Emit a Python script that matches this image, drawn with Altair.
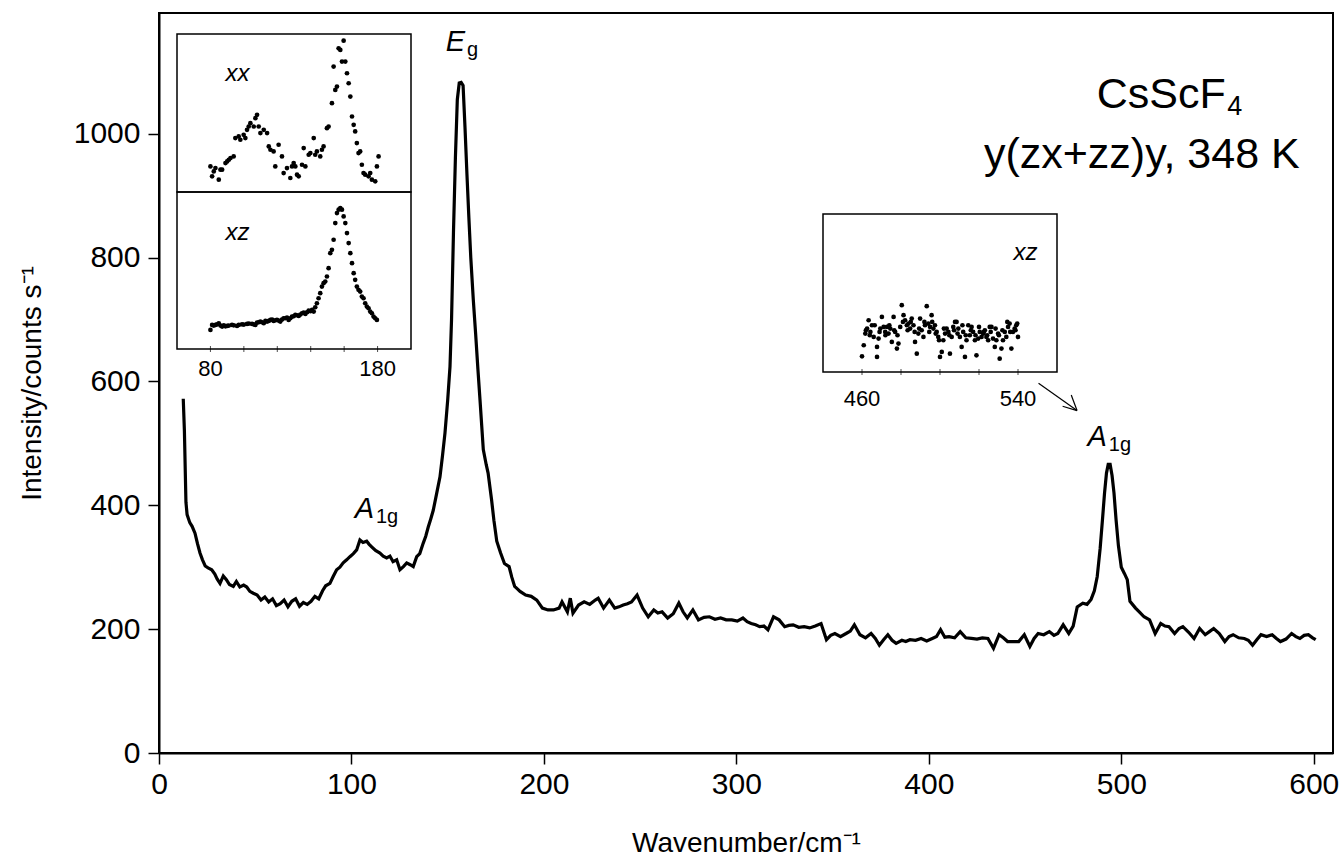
import altair as alt
import pandas as pd

# ---------------- data ----------------
main_points = [
    (12.6, 572), (13.2, 520), (14.0, 405), (14.6, 385), (16.0, 372), (17.2, 366), (18.7, 355), (20.0, 338),
    (21.3, 323), (22.6, 312), (24.0, 302), (25.5, 299), (27.4, 296), (29.0, 289), (30.2, 281), (31.7, 274),
    (33.4, 286), (35.0, 280), (36.6, 272), (38.6, 269), (40.2, 277), (42.0, 268), (44.0, 271), (45.6, 268),
    (47.2, 261), (49.0, 258), (51.0, 255), (53.0, 247), (55.0, 252), (57.0, 244), (59.0, 249), (61.0, 238),
    (63.0, 241), (65.0, 247), (67.0, 236), (69.0, 245), (71.0, 249), (73.0, 237), (75.0, 243), (77.0, 240),
    (79.0, 245), (81.0, 253), (83.0, 249), (85.0, 262), (86.6, 270), (88.8, 274), (90.5, 285), (92.3, 296),
    (94.0, 300), (95.7, 307), (97.5, 312), (99.2, 317), (101.0, 322), (102.7, 328), (104.4, 344), (106.0, 340),
    (107.9, 342), (109.2, 337), (110.5, 333), (112.5, 327), (114.8, 323), (116.5, 318), (118.3, 315), (120.0, 318),
    (121.6, 309), (123.5, 312), (125.2, 296), (127.0, 301), (128.7, 307), (130.5, 304), (132.1, 301), (133.9, 317),
    (135.5, 322), (137.3, 339), (138.6, 350), (139.9, 365), (141.2, 378), (142.5, 392), (144.2, 418), (146.0, 446),
    (147.3, 480), (148.6, 517), (150.0, 570), (151.2, 624), (152.0, 700), (153.0, 840), (154.0, 960), (155.0, 1055),
    (156.0, 1082), (157.0, 1083), (158.0, 1078), (159.0, 1010), (160.0, 935), (161.0, 865), (162.0, 800), (163.3, 732),
    (164.5, 678), (165.7, 620), (166.8, 570), (168.5, 490), (170.0, 466), (171.0, 452), (172.8, 409), (174.0, 376),
    (175.5, 342), (177.5, 323), (179.5, 306), (181.9, 301), (183.3, 284), (184.8, 269), (186.2, 265), (187.6, 261),
    (190.5, 255), (193.4, 253), (196.3, 247), (199.2, 234), (202.1, 231), (205.0, 231), (207.9, 234), (209.4, 244),
    (212.2, 228), (213.7, 250), (215.1, 226), (218.0, 239), (220.9, 244), (223.8, 240), (226.7, 247), (228.2, 250),
    (231.0, 234), (234.0, 247), (236.8, 234), (239.0, 236), (241.2, 239), (243.4, 241), (245.5, 244), (248.4, 255),
    (251.3, 234), (254.2, 220), (257.1, 231), (259.2, 226), (261.4, 228), (264.3, 218), (267.2, 225), (270.1, 242),
    (272.3, 228), (274.5, 218), (277.4, 231), (280.3, 215), (283.2, 219), (286.0, 220), (288.9, 216), (291.8, 218),
    (294.7, 215), (297.6, 215), (300.5, 213), (303.4, 218), (305.6, 212), (307.7, 209), (310.0, 207), (312.1, 204),
    (314.3, 205), (316.4, 199), (319.3, 220), (322.2, 215), (325.1, 204), (327.3, 206), (329.5, 207), (332.4, 203),
    (335.2, 204), (338.1, 202), (341.0, 205), (344.0, 209), (346.8, 183), (349.0, 190), (351.2, 193), (354.1, 188),
    (357.0, 193), (359.2, 197), (361.3, 207), (364.2, 191), (367.1, 186), (370.0, 193), (372.2, 185), (374.3, 174),
    (376.5, 183), (378.7, 191), (380.9, 182), (383.0, 177), (386.0, 182), (388.0, 180), (390.2, 183), (393.1, 182),
    (396.0, 185), (398.9, 181), (401.8, 185), (404.0, 188), (406.1, 199), (408.3, 187), (410.5, 188), (413.4, 186),
    (416.3, 196), (419.2, 186), (422.1, 185), (425.0, 184), (427.8, 186), (430.7, 185), (433.6, 169), (436.5, 191),
    (438.7, 186), (440.9, 180), (443.8, 180), (446.7, 180), (449.6, 191), (452.5, 172), (454.7, 185), (456.8, 193),
    (459.7, 191), (462.6, 196), (465.0, 190), (467.0, 193), (469.8, 207), (472.7, 193), (475.0, 205), (477.1, 236),
    (480.0, 242), (482.2, 240), (484.3, 248), (486.0, 262), (487.5, 285), (489.0, 330), (490.2, 376), (491.3, 420),
    (492.3, 452), (493.2, 466), (494.2, 466), (495.2, 448), (496.2, 420), (497.3, 376), (498.5, 335), (500.0, 300),
    (501.6, 290), (503.1, 280), (504.5, 245), (507.4, 234), (509.6, 227), (511.8, 220), (514.7, 215), (517.6, 193),
    (520.5, 209), (522.7, 205), (524.8, 204), (527.7, 193), (530.0, 201), (532.0, 204), (535.0, 195), (537.8, 185),
    (540.7, 201), (543.6, 191), (545.8, 196), (548.0, 201), (550.9, 193), (553.8, 180), (556.0, 188), (558.1, 191),
    (561.0, 186), (563.9, 185), (566.0, 182), (568.2, 174), (570.4, 183), (572.6, 191), (575.5, 188), (578.4, 191),
    (580.6, 185), (582.7, 180), (585.6, 184), (588.5, 193), (590.7, 188), (592.8, 185), (595.0, 190), (597.2, 191),
    (599.4, 186), (601.0, 183),
]
wavenumber = [p[0] for p in main_points]
intensity = [p[1] for p in main_points]

# inset 1, top panel (xx), arbitrary intensity units
xx_points = [
    (80.0, 77), (81.0, 47), (82.0, 62), (83.0, 72), (85.0, 37), (86.0, 67), (87.0, 67), (89.0, 87), (90.0, 92),
    (91.0, 97), (92.0, 102), (93.9, 107), (94.9, 162), (96.9, 167), (97.9, 157), (99.9, 172), (100.9, 162),
    (101.9, 187), (102.9, 197), (103.9, 207), (105.9, 197), (106.9, 222), (107.9, 232), (108.9, 197), (109.9, 177),
    (111.9, 187), (113.9, 177), (114.9, 137), (115.9, 127), (117.8, 122), (118.8, 77), (120.8, 142), (122.8, 107),
    (123.8, 57), (125.8, 72), (127.8, 42), (128.8, 77), (129.8, 87), (130.8, 77), (131.8, 52), (132.8, 47),
    (134.8, 82), (135.8, 132), (136.8, 77), (138.8, 112), (139.8, 117), (141.8, 162), (142.7, 112), (143.7, 122),
    (145.7, 107), (146.7, 127), (147.7, 137), (149.7, 192), (150.7, 197), (152.7, 267), (153.7, 377), (154.7, 307),
    (155.7, 317), (156.7, 432), (157.7, 427), (158.7, 392), (159.7, 455), (160.7, 392), (161.7, 357), (162.7, 327),
    (163.7, 287), (164.7, 227), (165.7, 202), (166.6, 182), (167.6, 147), (168.6, 117), (169.6, 122), (170.6, 82),
    (171.6, 57), (172.6, 52), (174.6, 47), (175.6, 57), (176.6, 37), (178.6, 32), (179.6, 77), (180.6, 107),
]
# inset 1, bottom panel (xz)
xz_points = [
    (80.0, 57), (81.0, 72), (82.0, 70), (83.0, 72), (84.0, 74), (85.0, 77), (86.0, 70), (87.0, 67), (88.0, 71),
    (89.0, 68), (90.0, 69), (91.0, 70), (92.9, 72), (94.0, 71), (95.9, 69), (97.0, 72), (98.9, 74), (100.0, 73),
    (101.9, 75), (103.0, 76), (104.9, 75), (105.9, 74), (106.9, 72), (107.9, 79), (108.9, 80), (109.9, 82),
    (110.9, 80), (111.9, 77), (112.9, 84), (113.9, 82), (114.9, 84), (115.9, 87), (116.9, 88), (117.8, 84),
    (118.8, 86), (119.8, 87), (120.8, 85), (121.8, 82), (122.8, 88), (123.8, 92), (124.8, 92), (125.8, 94),
    (126.8, 87), (127.8, 92), (128.8, 97), (129.8, 98), (130.8, 102), (131.8, 101), (132.8, 99), (133.8, 103),
    (134.8, 107), (135.8, 109), (136.8, 105), (137.8, 110), (138.8, 115), (139.8, 113), (140.8, 117), (141.8, 112),
    (142.7, 125), (143.7, 137), (144.7, 152), (145.7, 167), (146.7, 187), (147.7, 197), (148.7, 202), (149.7, 217),
    (150.7, 242), (151.7, 287), (152.7, 297), (153.7, 327), (154.7, 377), (155.7, 407), (156.7, 417), (157.7, 422),
    (158.7, 417), (159.7, 397), (160.7, 377), (161.7, 347), (162.7, 317), (163.7, 287), (164.7, 257), (165.7, 227),
    (166.6, 207), (167.6, 187), (168.6, 177), (169.6, 172), (170.6, 157), (171.6, 152), (172.6, 137), (173.6, 127),
    (174.6, 122), (175.6, 112), (176.6, 107), (177.6, 97), (178.6, 92), (179.6, 87),
]
# inset 2 (xz, 460-540 cm-1)
hi_points = [
    (460.0, 47), (460.9, 80), (461.7, 115), (462.0, 125), (462.6, 130), (463.4, 155), (464.0, 110), (464.3, 120),
    (465.1, 140), (466.0, 105), (466.5, 140), (467.7, 45), (467.7, 75), (468.5, 100), (469.0, 120), (469.4, 130),
    (470.2, 165), (471.1, 135), (471.9, 120), (472.0, 110), (472.8, 135), (473.6, 115), (474.0, 140), (474.5, 130),
    (475.3, 90), (476.2, 165), (476.5, 125), (477.0, 120), (477.9, 70), (478.2, 110), (478.7, 85), (479.6, 135),
    (480.4, 200), (481.0, 150), (481.3, 170), (482.1, 155), (483.0, 140), (483.4, 125), (483.8, 145), (484.7, 130),
    (485.0, 150), (485.5, 160), (486.4, 140), (487.0, 120), (487.2, 90), (488.1, 55), (488.9, 115), (489.3, 130),
    (489.8, 160), (490.6, 125), (491.5, 105), (492.0, 150), (492.3, 140), (493.2, 197), (494.0, 145), (494.5, 120),
    (494.9, 135), (495.7, 170), (496.0, 150), (496.6, 130), (497.4, 140), (497.8, 115), (498.3, 120), (499.1, 105),
    (499.5, 95), (500.0, 45), (500.9, 60), (501.7, 95), (502.0, 130), (502.6, 115), (503.4, 130), (504.3, 120),
    (504.8, 110), (505.1, 55), (506.0, 105), (506.8, 135), (507.2, 125), (507.7, 150), (508.5, 150), (509.0, 115),
    (509.4, 130), (510.2, 105), (511.1, 75), (511.5, 140), (511.9, 120), (512.8, 45), (513.2, 110), (513.6, 95),
    (514.5, 140), (515.3, 110), (515.8, 125), (516.2, 135), (517.0, 120), (517.9, 95), (518.2, 110), (518.7, 50),
    (519.6, 100), (520.0, 135), (520.4, 120), (521.3, 105), (522.1, 115), (522.5, 120), (523.0, 125), (523.8, 105),
    (524.2, 110), (524.7, 95), (525.5, 135), (526.0, 120), (526.4, 135), (527.2, 100), (528.1, 75), (528.5, 130),
    (528.9, 95), (529.8, 115), (530.2, 110), (530.6, 40), (531.5, 70), (532.0, 125), (532.3, 95), (533.2, 120),
    (534.0, 105), (534.5, 150), (534.9, 135), (535.7, 145), (536.0, 120), (536.6, 70), (537.4, 120), (538.3, 130),
    (538.7, 125), (539.1, 140), (539.6, 145), (540.0, 105),
]

x_ticks = [0, 100, 200, 300, 400, 500, 600]
y_ticks = [0, 200, 400, 600, 800, 1000]
inset1_labels = [80, 180]
inset1_ticks = [80, 100, 120, 140, 160, 180]
inset2_labels = [460, 540]
inset2_ticks = [460, 480, 500, 520, 540]

# ---------------- layout ----------------
W, H = 1174, 740
FONT = "Liberation Sans"
XD = [0, 610]
YD = [0, 1195]

I1_X = [18, 252]
I1_XD = [60, 200]
I1_TOP = [179, 21]
I1_TOPD = [0, 475]
I1_BOT = [336, 179]
I1_BOTD = [0, 470]
I2_X = [664, 898]
I2_XD = [440, 560]
I2_Y = [359, 201]
I2_YD = [0, 473]


def sx(field, domain=XD, rng=None, axis=None):
    sc = alt.Scale(domain=domain, nice=False, zero=False) if rng is None else alt.Scale(domain=domain, range=rng, nice=False, zero=False)
    return alt.X(field, type="quantitative", scale=sc, axis=axis)


def sy(field, domain=YD, rng=None, axis=None):
    sc = alt.Scale(domain=domain, nice=False, zero=False) if rng is None else alt.Scale(domain=domain, range=rng, nice=False, zero=False)
    return alt.Y(field, type="quantitative", scale=sc, axis=axis)


main_df = pd.DataFrame({"wn": wavenumber, "I": intensity})

xaxis = alt.Axis(values=x_ticks, format="d", title="Wavenumber/cm\u207b\u00b9", grid=False, tickSize=11, tickWidth=1.5,
                 domainWidth=2, domainColor="black", tickColor="black", labelFont=FONT, labelFontSize=30,
                 labelColor="black", labelPadding=5, titleFont=FONT, titleFontSize=28, titleFontWeight="normal",
                 titleColor="black", titleBaseline="middle", titleY=90, labelFlush=False)
yaxis = alt.Axis(values=y_ticks, format="d", title="Intensity/counts s\u207b\u00b9", grid=False, tickSize=11, tickWidth=1.5,
                 domainWidth=2, domainColor="black", tickColor="black", labelFont=FONT, labelFontSize=30,
                 labelColor="black", labelPadding=8, titleFont=FONT, titleFontSize=28, titleFontWeight="normal",
                 titleColor="black", titleX=-113, titleY=370, labelFlush=False)

line = alt.Chart(main_df).mark_line(color="black", strokeWidth=3.2, strokeJoin="miter").encode(
    x=sx("wn", axis=xaxis), y=sy("I", axis=yaxis), order="wn:Q")

xx_df = pd.DataFrame({"a": [p[0] for p in xx_points], "b": [p[1] for p in xx_points]})
xz_df = pd.DataFrame({"a": [p[0] for p in xz_points], "b": [p[1] for p in xz_points]})
hi_df = pd.DataFrame({"a": [p[0] for p in hi_points], "b": [p[1] for p in hi_points]})

pt = dict(color="black", filled=True, size=22, opacity=1)

xx_pts = alt.Chart(xx_df).mark_point(**pt).encode(
    x=sx("a", I1_XD, I1_X), y=sy("b", I1_TOPD, I1_TOP))
xz_pts = alt.Chart(xz_df).mark_point(**pt).encode(
    x=sx("a", I1_XD, I1_X), y=sy("b", I1_BOTD, I1_BOT))
hi_pts = alt.Chart(hi_df).mark_point(**pt).encode(
    x=sx("a", I2_XD, I2_X), y=sy("b", I2_YD, I2_Y))

frame = dict(fillOpacity=0, stroke="black", strokeWidth=1.5)
f1 = alt.Chart(pd.DataFrame({"a": [I1_XD[0]], "a2": [I1_XD[1]], "b": [I1_TOPD[0]], "b2": [I1_TOPD[1]]})).mark_rect(**frame).encode(
    x=sx("a", I1_XD, I1_X), x2="a2", y=sy("b", I1_TOPD, I1_TOP), y2="b2")
f2 = alt.Chart(pd.DataFrame({"a": [I1_XD[0]], "a2": [I1_XD[1]], "b": [I1_BOTD[0]], "b2": [I1_BOTD[1]]})).mark_rect(**frame).encode(
    x=sx("a", I1_XD, I1_X), x2="a2", y=sy("b", I1_BOTD, I1_BOT), y2="b2")
f3 = alt.Chart(pd.DataFrame({"a": [I2_XD[0]], "a2": [I2_XD[1]], "b": [I2_YD[0]], "b2": [I2_YD[1]]})).mark_rect(**frame).encode(
    x=sx("a", I2_XD, I2_X), x2="a2", y=sy("b", I2_YD, I2_Y), y2="b2")

t1 = alt.Chart(pd.DataFrame({"a": inset1_ticks, "b": [0] * len(inset1_ticks)})).mark_tick(
    color="black", size=6, thickness=1).encode(x=sx("a", I1_XD, I1_X), y=sy("b", I1_BOTD, I1_BOT))
t2 = alt.Chart(pd.DataFrame({"a": inset2_ticks, "b": [0] * len(inset2_ticks)})).mark_tick(
    color="black", size=6, thickness=1).encode(x=sx("a", I2_XD, I2_X), y=sy("b", I2_YD, I2_Y))

l1 = alt.Chart(pd.DataFrame({"a": inset1_labels, "b": [0, 0], "t": [str(v) for v in inset1_labels]})).mark_text(
    font=FONT, fontSize=22, color="black", baseline="middle", dy=20).encode(
    x=sx("a", I1_XD, I1_X), y=sy("b", I1_BOTD, I1_BOT), text="t:N")
l2 = alt.Chart(pd.DataFrame({"a": inset2_labels, "b": [0, 0], "t": [str(v) for v in inset2_labels]})).mark_text(
    font=FONT, fontSize=22, color="black", baseline="middle", dy=27).encode(
    x=sx("a", I2_XD, I2_X), y=sy("b", I2_YD, I2_Y), text="t:N")

pol1 = alt.Chart(pd.DataFrame({"a": [89], "b": [356], "t": ["xx"]})).mark_text(
    font=FONT, fontSize=24, fontStyle="italic", color="black", align="left", baseline="middle").encode(
    x=sx("a", I1_XD, I1_X), y=sy("b", I1_TOPD, I1_TOP), text="t:N")
pol2 = alt.Chart(pd.DataFrame({"a": [89], "b": [346], "t": ["xz"]})).mark_text(
    font=FONT, fontSize=24, fontStyle="italic", color="black", align="left", baseline="middle").encode(
    x=sx("a", I1_XD, I1_X), y=sy("b", I1_BOTD, I1_BOT), text="t:N")
pol3 = alt.Chart(pd.DataFrame({"a": [550], "b": [355], "t": ["xz"]})).mark_text(
    font=FONT, fontSize=24, fontStyle="italic", color="black", align="right", baseline="middle").encode(
    x=sx("a", I2_XD, I2_X), y=sy("b", I2_YD, I2_Y), text="t:N")

arrow_df = pd.DataFrame({
    "x": [457.0, 469.5, 474.0],
    "y": [597.0, 560.0, 578.0],
    "x2": [477.0, 477.0, 477.0],
    "y2": [553.0, 553.0, 553.0],
})
arrow = alt.Chart(arrow_df).mark_rule(color="black", strokeWidth=1.2).encode(
    x=sx("x"), y=sy("y"), x2="x2", y2="y2")

big = alt.Chart(pd.DataFrame({"x": [554.3], "y": [1063], "t": ["CsScF"]})).mark_text(
    font=FONT, fontSize=43, color="black", align="right", baseline="middle").encode(
    x=sx("x"), y=sy("y"), text="t:N")
sub4 = alt.Chart(pd.DataFrame({"x": [555.0], "y": [1063], "t": ["4"]})).mark_text(
    font=FONT, fontSize=27, color="black", align="left", baseline="middle", dy=12).encode(
    x=sx("x"), y=sy("y"), text="t:N")
cond = alt.Chart(pd.DataFrame({"x": [592.7], "y": [966], "t": ["y(zx+zz)y, 348 K"]})).mark_text(
    font=FONT, fontSize=43, color="black", align="right", baseline="middle").encode(
    x=sx("x"), y=sy("y"), text="t:N")

lab_main = pd.DataFrame({"x": [159.0, 111.7, 492.5], "y": [1148, 394, 510], "t": ["E", "A", "A"]})
lab_sub = pd.DataFrame({"x": [160.0, 112.7, 493.5], "y": [1148, 394, 510], "t": ["g", "1g", "1g"]})
labA = alt.Chart(lab_main).mark_text(font=FONT, fontSize=29, fontStyle="italic", color="black", align="right",
                                     baseline="middle").encode(x=sx("x"), y=sy("y"), text="t:N")
labS = alt.Chart(lab_sub).mark_text(font=FONT, fontSize=20, color="black", align="left", baseline="middle",
                                    dy=8).encode(x=sx("x"), y=sy("y"), text="t:N")

chart = alt.layer(
    line, f1, f2, f3, t1, t2, xx_pts, xz_pts, hi_pts, l1, l2, pol1, pol2, pol3, arrow, big, sub4, cond, labA, labS
).resolve_scale(x="independent", y="independent").properties(
    width=W, height=H,
    autosize=alt.AutoSizeParams(type="none"),
    padding={"left": 159, "top": 13, "right": 9, "bottom": 107},
    background="white",
).configure_view(stroke="black", strokeWidth=2)

chart.save("out.html", embed_options={"renderer": "svg", "actions": False})
